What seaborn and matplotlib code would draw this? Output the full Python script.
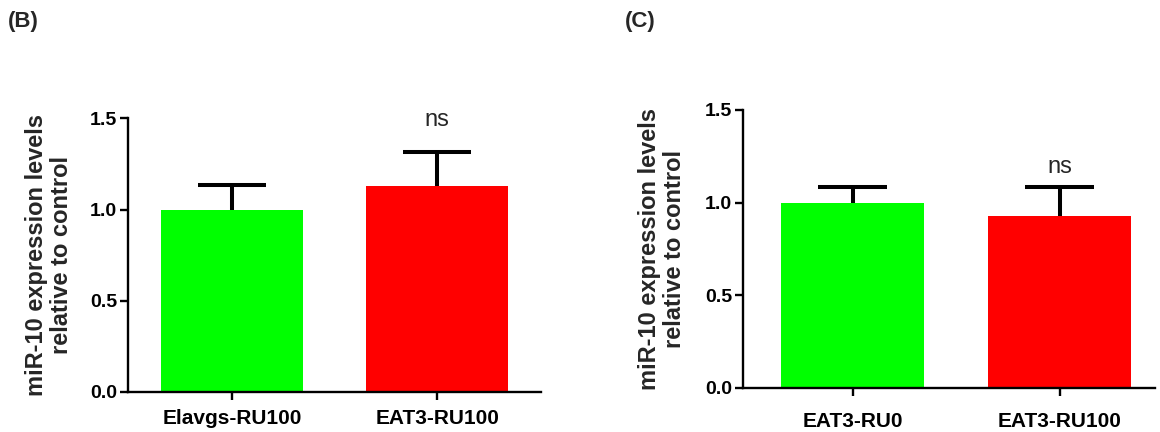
import matplotlib
matplotlib.use("Agg")
import matplotlib.pyplot as plt
import seaborn as sns
import pandas as pd

# ---- data ----
cats_b = ["Elavgs-RU100", "EAT3-RU100"]
vals_b = [1.00, 1.13]
errs_b = [0.133, 0.187]

cats_c = ["EAT3-RU0", "EAT3-RU100"]
vals_c = [1.00, 0.928]
errs_c = [0.086, 0.155]

bar_colors = ["#00FF00", "#FF0000"]
yticks = [0.0, 0.5, 1.0, 1.5]
ylabel = "miR-10 expression levels\nrelative to control"

sns.set_theme(style="ticks")
plt.rcParams["font.family"] = ["Liberation Sans", "DejaVu Sans"]

fig = plt.figure(figsize=(11.6, 4.32), dpi=100)
ax_b = fig.add_axes([0.1106, 0.0926, 0.3558, 0.6336])
ax_c = fig.add_axes([0.6408, 0.1019, 0.3549, 0.6435])


def draw(ax, cats, vals, errs, xlim, xpad, ns_y, lpad):
    df = pd.DataFrame({"group": cats, "value": vals})
    sns.barplot(data=df, x="group", y="value", hue="group", palette=bar_colors,
                width=0.69, errorbar=None, legend=False, ax=ax, saturation=1,
                linewidth=0)
    xs = list(range(len(cats)))
    tops = [v + e for v, e in zip(vals, errs)]
    # upper-only error bars (stem + cap)
    ax.vlines(xs, vals, tops, colors="black", linewidth=2.9, zorder=3)
    cap_half = 0.167
    ax.hlines(tops, [x - cap_half for x in xs], [x + cap_half for x in xs],
              colors="black", linewidth=2.9, zorder=3)
    ax.set_ylim(0, 1.5)
    ax.set_xlim(*xlim)
    ax.set_yticks(yticks)
    ax.set_yticklabels([f"{t:.1f}" for t in yticks])
    ax.set_xlabel("")
    ax.set_ylabel(ylabel, fontsize=17, fontweight="bold", labelpad=lpad, linespacing=1.1)
    for s in ["top", "right"]:
        ax.spines[s].set_visible(False)
    for s in ["left", "bottom"]:
        ax.spines[s].set_linewidth(1.7)
        ax.spines[s].set_color("black")
    ax.tick_params(axis="y", length=6, width=1.7, labelsize=14, pad=2, colors="black")
    ax.tick_params(axis="x", length=6, width=1.7, labelsize=15, pad=xpad, colors="black")
    for lab in ax.get_xticklabels() + ax.get_yticklabels():
        lab.set_fontweight("bold")
    ax.text(1, ns_y, "ns", ha="center", va="center", fontsize=17)


draw(ax_b, cats_b, vals_b, errs_b, (-0.507, 1.507), 6, 1.49, 12)
draw(ax_c, cats_c, vals_c, errs_c, (-0.528, 1.46), 11, 1.19, 14)

fig.text(23 / 1160, 1 - 21 / 432, "(B)", ha="center", va="center", fontsize=16, fontweight="bold")
fig.text(640 / 1160, 1 - 21 / 432, "(C)", ha="center", va="center", fontsize=16, fontweight="bold")

fig.savefig("out.png", dpi=100)
